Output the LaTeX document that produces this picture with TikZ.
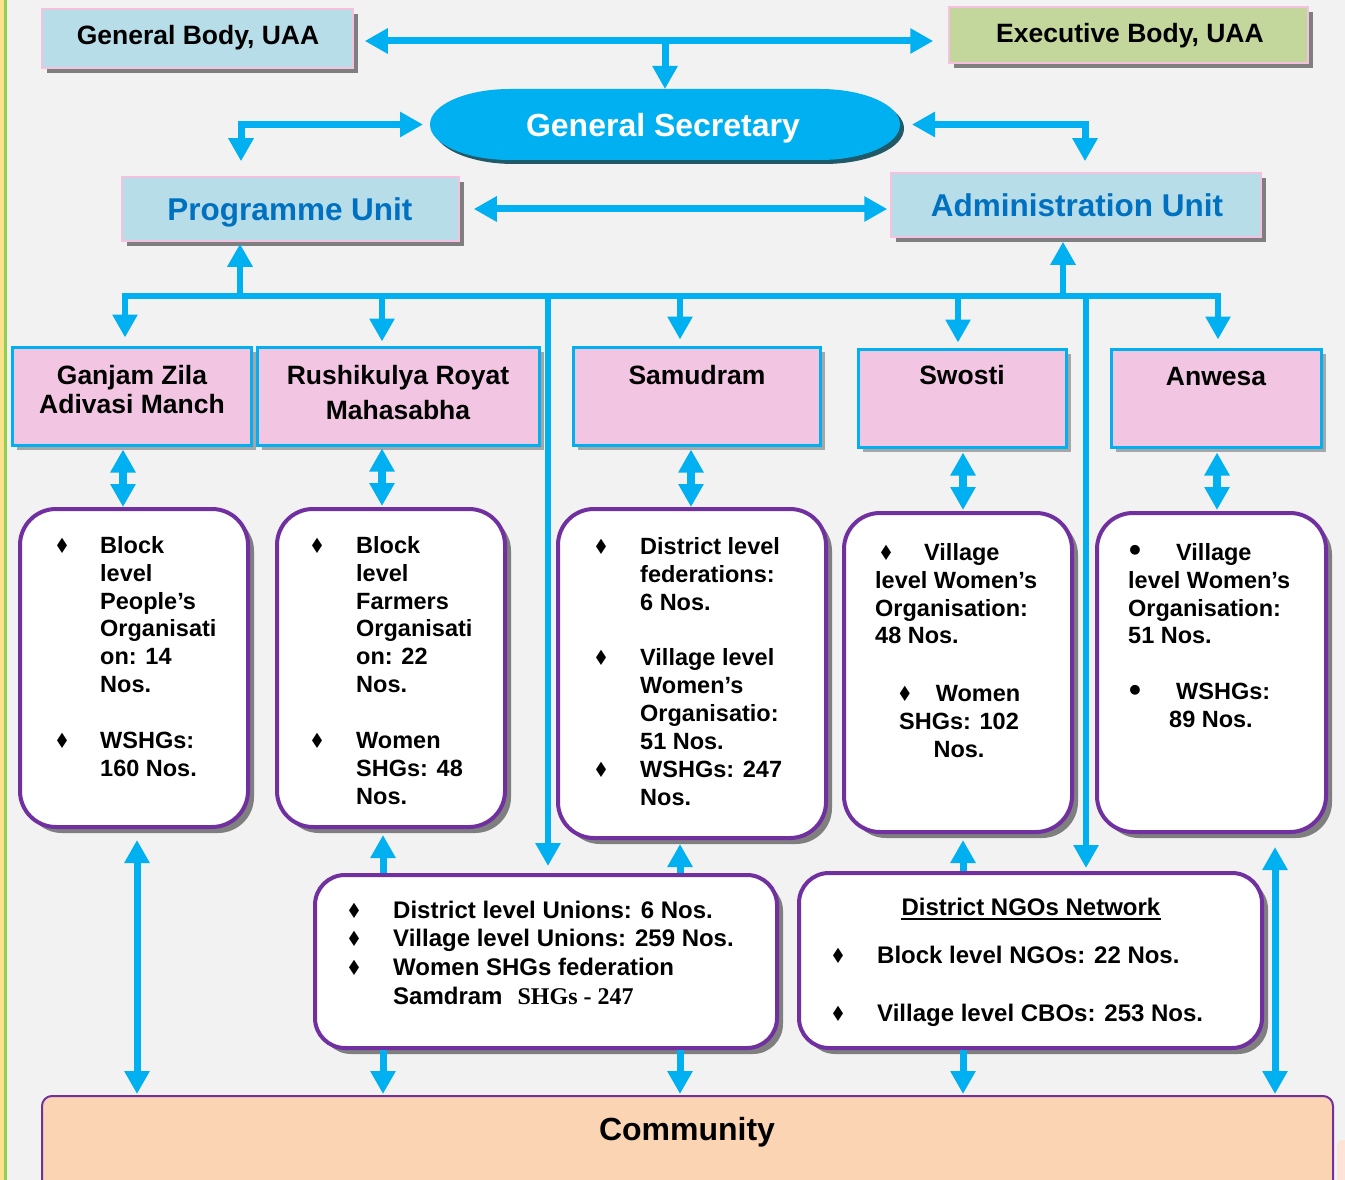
\documentclass[tikz,border=0pt]{standalone}
\usepackage{fontspec}
\usepackage{graphicx}
\setmainfont{Liberation Sans}
\newfontfamily\djv{DejaVu Sans}
\newfontfamily\tms{Liberation Serif}
\usetikzlibrary{arrows.meta,shadows}
\definecolor{bgc}{HTML}{F2F2F2}
\definecolor{cy}{HTML}{00B0F0}
\definecolor{lb}{HTML}{B7DDE8}
\definecolor{lg}{HTML}{C3D69B}
\definecolor{pk}{HTML}{F2C6E3}
\definecolor{pkb}{HTML}{F4C2DE}
\definecolor{purp}{HTML}{7030A0}
\definecolor{dblue}{HTML}{0070C0}
\definecolor{peach}{HTML}{FBD4B4}
\definecolor{peachl}{HTML}{FCE4D6}
\definecolor{shg}{HTML}{7F7F7F}
\definecolor{shl}{HTML}{A6A6A6}
\definecolor{gsh}{HTML}{215968}
\definecolor{yel}{HTML}{FBE38E}
\definecolor{grn}{HTML}{92D050}
\newcommand\dm{{\djv\fontsize{21}{21}\selectfont\scalebox{0.85}[1]{♦}}}
\newcommand\bul[1]{\makebox[#1pt][l]{\hspace*{-1pt}\dm}}
\newcommand\rb[1]{\makebox[#1pt][l]{\fontsize{34}{34}\selectfont\raisebox{-1.5pt}{•}}}
\newcommand\ind[1]{\hspace*{#1pt}}
\begin{document}
\begin{tikzpicture}[x=1pt,y=-1pt,
  topbox/.style={draw=pkb, line width=1.5, inner sep=0,
    drop shadow={shadow xshift=5pt,shadow yshift=-5pt,fill=shg,opacity=1}},
  orgbox/.style={draw=cy, line width=3, fill=pk, inner sep=0,
    drop shadow={shadow xshift=5pt,shadow yshift=-5pt,fill=shl,opacity=1}},
  wbox/.style={draw=purp, line width=4, fill=white, rounded corners=36, inner sep=0,
    drop shadow={shadow xshift=6pt,shadow yshift=-6pt,fill=shg,opacity=1}},
  conn/.style={draw=cy, line width=7, -{Triangle[width=24pt,length=23pt]}},
  dconn/.style={draw=cy, line width=7, {Triangle[width=24pt,length=23pt]}-{Triangle[width=24pt,length=23pt]}},
  bigt/.style={font=\fontsize{31.5}{34}\selectfont\bfseries, inner sep=0, anchor=base},
  midt/.style={font=\fontsize{26.5}{29}\selectfont\bfseries, inner sep=0},
  boxt/.style={font=\fontsize{23.5}{27.9}\selectfont\bfseries, inner sep=0, align=left, anchor=north west},
  lowt/.style={font=\fontsize{24}{28.7}\selectfont\bfseries, inner sep=0, align=left, anchor=north west}
]
\useasboundingbox (0,0) rectangle (1345,1180);
% background
\fill[bgc] (0,0) rectangle (1345,1180);
\fill[yel] (0,0) rectangle (4,1180);
\fill[grn] (4,0) rectangle (7,1180);
\fill[peachl, rounded corners=6] (1337,1140) rectangle (1352,1190);

% top boxes
\node[topbox, fill=lb, minimum width=311, minimum height=59] (gb) at (197.5,38.5) {};
\node[midt, anchor=base] (gbt) at (198,45) {General Body, UAA};
\node[topbox, fill=lg, minimum width=359, minimum height=56] (eb) at (1128.5,35) {};
\node[midt, anchor=base] (ebt) at (1130,43) {Executive Body, UAA};

% general secretary
\begin{scope}[shift={(4,4)}]
\fill[gsh] (510,89) -- (820,89) arc[start angle=270,end angle=450,x radius=80,y radius=35.5]
  -- (510,160) arc[start angle=90,end angle=270,x radius=80,y radius=35.5] -- cycle;
\end{scope}
\fill[cy] (510,89) -- (820,89) arc[start angle=270,end angle=450,x radius=80,y radius=35.5]
  -- (510,160) arc[start angle=90,end angle=270,x radius=80,y radius=35.5] -- cycle;
\node[minimum width=470, minimum height=71, inner sep=0, outer sep=0] (gs) at (665,124.5) {};
\node[bigt, font=\fontsize{32}{34}\selectfont\bfseries, text=white] (gst) at (663,137) {General Secretary};

% units
\node[topbox, fill=lb, minimum width=337, minimum height=64] (pu) at (290.5,209) {};
\node[bigt, text=dblue] (put) at (290,220) {Programme Unit};
\node[topbox, fill=lb, minimum width=370, minimum height=64] (au) at (1076,205) {};
\node[bigt, text=dblue] (aut) at (1077,217) {Administration Unit};

% organisations
\node[orgbox, minimum width=239, minimum height=98] (org1) at (131.5,396) {};
\node[orgbox, minimum width=282, minimum height=98] (org2) at (398,396) {};
\node[orgbox, minimum width=247, minimum height=98] (org3) at (696.5,396) {};
\node[orgbox, minimum width=208, minimum height=98] (org4) at (962,398) {};
\node[orgbox, minimum width=210, minimum height=98] (org5) at (1216,398) {};
\node[midt, align=center, anchor=north] (org1t) at (132,363.7) {\strut Ganjam Zila\\Adivasi Manch};
\node[midt, font=\fontsize{26.5}{35}\selectfont\bfseries, align=center, anchor=north] (org2t) at (398,359.5) {\strut Rushikulya Royat\\Mahasabha};
\node[midt, anchor=base] (org3t) at (697,384) {Samudram};
\node[midt, anchor=base] (org4t) at (962,384) {Swosti};
\node[midt, anchor=base] (org5t) at (1216,385) {Anwesa};

% white boxes
\node[wbox, minimum width=228, minimum height=318] (box1) at (134,668) {};
\node[wbox, minimum width=228, minimum height=318] (box2) at (391,668) {};
\node[wbox, minimum width=268, minimum height=329] (box3) at (692,673.5) {};
\node[wbox, minimum width=228, minimum height=319] (box4) at (958,672.5) {};
\node[wbox, minimum width=229, minimum height=319] (box5) at (1211.5,672.5) {};

\node[boxt] (box1t) at (55,533.5) {\strut\bul{45}Block\\ \ind{45}level\\ \ind{45}People’s\\ \ind{45}Organisati\\ \ind{45}on: 14\\ \ind{45}Nos.\\ \strut\\ \bul{45}WSHGs:\\ \ind{45}160 Nos.};
\node[boxt] (box2t) at (310,533.5) {\strut\bul{46}Block\\ \ind{46}level\\ \ind{46}Farmers\\ \ind{46}Organisati\\ \ind{46}on: 22\\ \ind{46}Nos.\\ \strut\\ \bul{46}Women\\ \ind{46}SHGs: 48\\ \ind{46}Nos.};
\node[boxt] (box3t) at (594,534.5) {\strut\bul{46}District level\\ \ind{46}federations:\\ \ind{46}6 Nos.\\ \strut\\ \bul{46}Village level\\ \ind{46}Women’s\\ \ind{46}Organisatio:\\ \ind{46}51 Nos.\\ \bul{46}WSHGs: 247\\ \ind{46}Nos.};
\node[boxt] (box4ta) at (875,540.5) {\strut\ind{4}\bul{45}Village\\ level Women’s\\ Organisation:\\ 48 Nos.};
\node[boxt, align=center, anchor=north] (box4tb) at (959,681.5) {\strut\bul{38}Women\\ SHGs: 102\\ Nos.};
\node[boxt] (box5t) at (1128,540.5) {\strut\ind{1}\rb{47}Village\\ level Women’s\\ Organisation:\\ 51 Nos.\\ \strut\\ \ind{1}\rb{47}WSHGs:\\ \ind{41}89 Nos.};

% lower boxes
\node[wbox, rounded corners=30, minimum width=462, minimum height=173] (unions) at (546,961.5) {};
\node[lowt] (unionst) at (347,897.9) {\strut\bul{46}District level Unions: 6 Nos.\\ \bul{46}Village level Unions: 259 Nos.\\ \bul{46}Women SHGs federation\\ \ind{46}Samdram\hspace{15pt}{\tms\bfseries SHGs - 247}};
\node[wbox, rounded corners=30, minimum width=463, minimum height=175] (ngo) at (1030.5,960.5) {};
\node[lowt, anchor=base] (ngot) at (1031,915) {District NGOs Network};
\draw[line width=2] ([yshift=-4pt]ngot.base west) -- ([yshift=-4pt]ngot.base east);
\node[lowt, font=\fontsize{24}{29}\selectfont\bfseries] (ngobt) at (831,942.7) {\strut\bul{46}Block level NGOs: 22 Nos.\\ \strut\\ \bul{46}Village level CBOs: 253 Nos.};

% community
\node[draw=purp, line width=2, fill=peach, rounded corners=10, minimum width=1291, minimum height=110, inner sep=0] (comm) at (687.5,1151) {};
\node[bigt, font=\fontsize{32}{34}\selectfont\bfseries] (commt) at (687,1140) {Community};

% ---- connectors ----
\coordinate (top) at (665,41);
\draw[dconn, shorten <=11, shorten >=15] (gb.east |- top) -- (eb.west |- top);
\draw[conn] (top) -- (gs.north);
\coordinate (elL) at (241,125);
\draw[dconn, shorten <=15, shorten >=7] (elL |- pu.north) |- (gs.west);
\coordinate (elR) at (1085,125);
\draw[dconn, shorten <=12, shorten >=11] (gs.east) -| (elR |- au.north);
\coordinate (mid) at (680,209);
\draw[dconn, shorten <=14, shorten >=3] (pu.east |- mid) -- (au.west |- mid);

% bus
\coordinate (b1) at (125,296);
\coordinate (b2) at (382,296);
\coordinate (b3) at (680,296);
\coordinate (b4) at (958,296);
\coordinate (b5) at (1218,296);
\draw[dconn, line width=6, shorten <=8, shorten >=8] (b1 |- org1.north) -- (b1) -- (b5) -- (b5 |- org5.north);
\draw[conn, line width=6, shorten >=4] (b2) -- (b2 |- org2.north);
\draw[conn, line width=6, shorten >=6] (b3) -- (b3 |- org3.north);
\draw[conn, line width=6, shorten >=5] (b4) -- (b4 |- org4.north);
\coordinate (bp) at (240,296);
\draw[conn, line width=6, shorten >=2] (bp) -- (bp |- pu.south);
\coordinate (ba) at (1063,296);
\draw[conn, line width=6, shorten >=4] (ba) -- (ba |- au.south);
\coordinate (bl1) at (548,296);
\draw[conn, line width=6, shorten >=7] (bl1) -- (bl1 |- unions.north);
\coordinate (bl2) at (1086,296);
\draw[conn, line width=6, shorten >=3] (bl2) -- (bl2 |- ngo.north);

% org <-> boxes
\coordinate (v1) at (123,0);
\coordinate (v2) at (382,0);
\coordinate (v3) at (691,0);
\coordinate (v4) at (963,0);
\coordinate (v5) at (1217,0);
\draw[dconn, line width=8, shorten <=3] (v1 |- org1.south) -- (v1 |- box1.north);
\draw[dconn, line width=8, shorten <=2, shorten >=1] (v2 |- org2.south) -- (v2 |- box2.north);
\draw[dconn, line width=8, shorten <=3] (v3 |- org3.south) -- (v3 |- box3.north);
\draw[dconn, line width=8, shorten <=4, shorten >=1] (v4 |- org4.south) -- (v4 |- box4.north);
\draw[dconn, line width=8, shorten <=4, shorten >=1] (v5 |- org5.south) -- (v5 |- box5.north);

% boxes <-> lower boxes
\coordinate (u1) at (383,0);
\coordinate (u2) at (680,0);
\coordinate (u3) at (963,0);
\draw[conn, shorten >=6] (u1 |- unions.north) -- (u1 |- box2.south);
\draw[conn, shorten >=4] (u2 |- unions.north) -- (u2 |- box3.south);
\draw[conn, shorten >=6] (u3 |- ngo.north) -- (u3 |- box4.south);

% to community
\coordinate (c1) at (137,0);
\coordinate (c5) at (1275,0);
\draw[dconn, shorten <=11, shorten >=1] (c1 |- box1.south) -- (c1 |- comm.north);
\draw[conn, shorten >=1] (u1 |- unions.south) -- (u1 |- comm.north);
\draw[conn, shorten >=1] (u2 |- unions.south) -- (u2 |- comm.north);
\draw[conn, shorten >=1] (u3 |- ngo.south) -- (u3 |- comm.north);
\draw[dconn, shorten <=13, shorten >=1] (c5 |- box5.south) -- (c5 |- comm.north);
\end{tikzpicture}
\end{document}
